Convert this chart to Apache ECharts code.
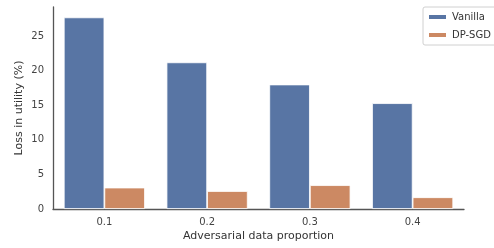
<!DOCTYPE html>
<html><head><meta charset="utf-8">
<script src="https://cdn.jsdelivr.net/npm/echarts@6/dist/echarts.min.js"></script>
<style>html,body{margin:0;padding:0;background:#fff}#c{width:494px;height:248px}</style>
</head><body><div id="c"></div>
<script>
const categories = ['0.1', '0.2', '0.3', '0.4'];
const vanilla = [27.7, 21.2, 18.0, 15.3];
const dpsgd = [3.1, 2.6, 3.45, 1.7];
const yTicks = [0, 5, 10, 15, 20, 25];

const chart = echarts.init(document.getElementById('c'), null, {renderer: 'canvas'});
const font = 'DejaVu Sans';
chart.setOption({
  animation: false,
  backgroundColor: '#ffffff',
  textStyle: {fontFamily: font},
  grid: {left: 53, right: 30, top: 7, bottom: 39},
  legend: {
    orient: 'vertical', left: 423, top: 7,
    icon: 'rect', itemWidth: 19, itemHeight: 6, itemGap: 8,
    padding: [5, 20, 5, 4],
    borderColor: '#d0d0d0', borderWidth: 1, borderRadius: 2,
    textStyle: {fontSize: 10, color: '#333', fontFamily: font},
    data: ['Vanilla', 'DP-SGD']
  },
  xAxis: {
    type: 'category', data: categories,
    name: 'Adversarial data proportion', nameLocation: 'middle', nameGap: 22,
    nameMoveOverlap: false,
    nameTextStyle: {fontSize: 11, color: '#333', fontFamily: font},
    axisLine: {lineStyle: {color: '#555', width: 1.3}},
    axisTick: {show: false},
    axisLabel: {fontSize: 10, color: '#444', margin: 8, fontFamily: font}
  },
  yAxis: {
    type: 'value', min: 0, max: 29.2, interval: 5,
    name: 'Loss in utility (%)', nameLocation: 'middle', nameGap: 28,
    nameMoveOverlap: false,
    nameTextStyle: {fontSize: 11, color: '#333', fontFamily: font},
    axisLine: {show: true, lineStyle: {color: '#555', width: 1.3}},
    axisTick: {show: false},
    splitLine: {show: false},
    axisLabel: {fontSize: 10, color: '#444', margin: 9, fontFamily: font,
      formatter: v => yTicks.includes(v) ? String(v) : ''}
  },
  series: [
    {name: 'Vanilla', type: 'bar', data: vanilla, barGap: '0%', barCategoryGap: '21%',
     itemStyle: {color: '#5875a4', borderColor: '#ffffff', borderWidth: 0.8}},
    {name: 'DP-SGD', type: 'bar', data: dpsgd,
     itemStyle: {color: '#cc8963', borderColor: '#ffffff', borderWidth: 0.8}}
  ]
});
</script></body></html>
